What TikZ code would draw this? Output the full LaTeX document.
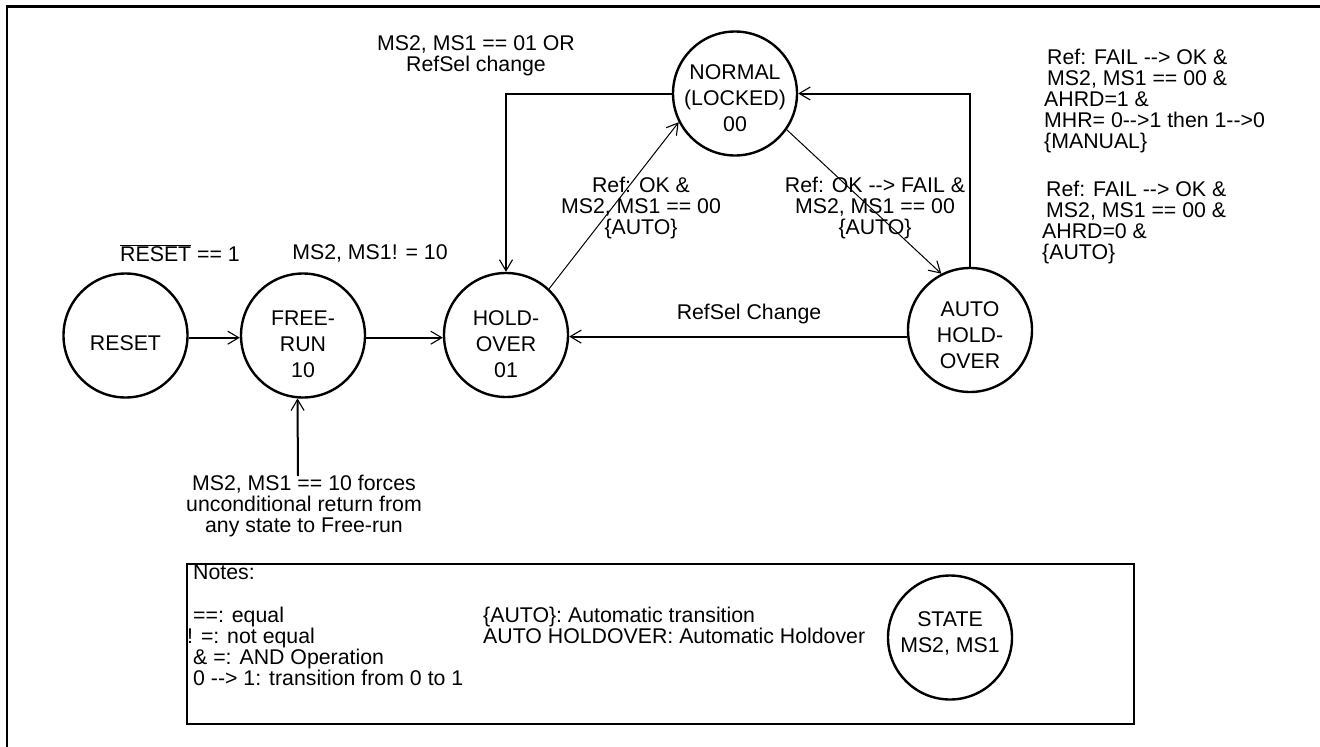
\documentclass[tikz,border=0pt]{standalone}
\usepackage{fontspec}
\setmainfont{Liberation Sans}
\usetikzlibrary{arrows.meta}
\newcommand\arw{-\hbox{-}>}
\begin{document}
\begin{tikzpicture}[x=1pt,y=-1pt,
  st/.style={circle,draw,line width=2.4pt,minimum size=124pt,inner sep=0pt},
  ctext/.style={inner sep=0pt,align=center,font=\fontsize{21.3}{26}\selectfont},
  lbl/.style={inner sep=0pt,align=center,font=\fontsize{21.3}{21}\selectfont},
  lbll/.style={inner sep=0pt,align=left,font=\fontsize{21.3}{21}\selectfont},
  tip/.style={-{Straight Barb[length=11pt,width=13pt,line width=1.1pt]}},
  conn/.style={line width=2pt},
  thinconn/.style={line width=1pt}
]
\useasboundingbox (0,0) rectangle (1320,747);
% outer frame (cut at right and bottom)
\draw[line width=2.6pt] (7,760) -- (7,6.5) -- (1330,6.5);

% states
\node[st] (rs) at (125.5,335.5) {};
\node[ctext] (rst) at ([yshift=-8pt]rs.center) {RESET};
\node[st] (fr) at (303,335.5) {};
\node[ctext] (frt) at ([yshift=-9pt]fr.center) {FREE-\\RUN\\10};
\node[st] (ho) at (506,335) {};
\node[ctext] (hot) at ([yshift=-9pt]ho.center) {HOLD-\\OVER\\01};
\node[st] (no) at (735,93.5) {};
\node[ctext] (not) at ([yshift=-5pt]no.center) {NORMAL\\(LOCKED)\\00};
\node[st] (au) at (970,330) {};
\node[ctext] (aut) at ([yshift=-5pt]au.center) {AUTO\\HOLD-\\OVER};

% connectors
\draw[conn,tip] (rs.-2.5) -- (rs.-2.5 -| fr.west);
\draw[conn,tip] (fr.-2.5) -- (fr.-2.5 -| ho.west);
\draw[conn,tip] (au.186) -- (au.186 -| ho.east);
\draw[conn,tip] (no.west) -| (ho.north);
\draw[conn,tip] (au.north) |- (no.east);
\draw[thinconn,tip] (ho.47) -- (no.207);
\draw[thinconn,tip] (no.325) -- (au.117);
\coordinate (fq) at (298,476);
\draw[conn,tip] (fq) -- (fr.265.4);

% labels
\node[lbl] (l1) at (180,253) {$\overline{\mbox{RESET}}$ == 1};
\node[lbl] (l2) at (370,253) {MS2, MS1! = 10};
\node[lbl] (l3) at (476,56) {MS2, MS1 == 01 OR\\RefSel change};
\node[lbl] (l4) at (641,208) {Ref: OK \&\\MS2, MS1 == 00\\\{AUTO\}};
\node[lbl] (l5) at (875,208) {Ref: OK \arw{} FAIL \&\\MS2, MS1 == 00\\\{AUTO\}};
\node[lbl] (l6) at (749,314) {RefSel Change};
\node[lbl] (l7) at (304,506) {MS2, MS1 == 10 forces\\unconditional return from\\any state to Free-run};
\node[lbll,anchor=west] (l8) at (1044,101) {\hspace*{3pt}Ref: FAIL \arw{} OK \&\\\hspace*{3pt}MS2, MS1 == 00 \&\\AHRD=1 \&\\MHR= 0\arw1 then 1\arw0\\\{MANUAL\}};
\node[lbll,anchor=west] (l9) at (1042,222.5) {\hspace*{4pt}Ref: FAIL \arw{} OK \&\\\hspace*{4pt}MS2, MS1 == 00 \&\\AHRD=0 \&\\\{AUTO\}};

% notes box
\node[draw,line width=2.4pt,minimum width=947pt,minimum height=160pt,inner sep=0pt] (notes) at (660.5,644) {};
\node[lbll,anchor=west] (n0) at (193,572) {Notes:};
\node[lbll,anchor=west] (n1) at (193,646) {==: equal\\\hspace*{-6pt}! =: not equal\\\& =: AND Operation\\0 \arw{} 1: transition from 0 to 1};
\node[lbll,anchor=west] (n2) at (483,625) {\{AUTO\}: Automatic transition\\AUTO HOLDOVER: Automatic Holdover};
\node[st] (sk) at (950,637.5) {};
\node[ctext] (skt) at ([yshift=4pt]sk.center) {STATE\\MS2, MS1};
\end{tikzpicture}
\end{document}
